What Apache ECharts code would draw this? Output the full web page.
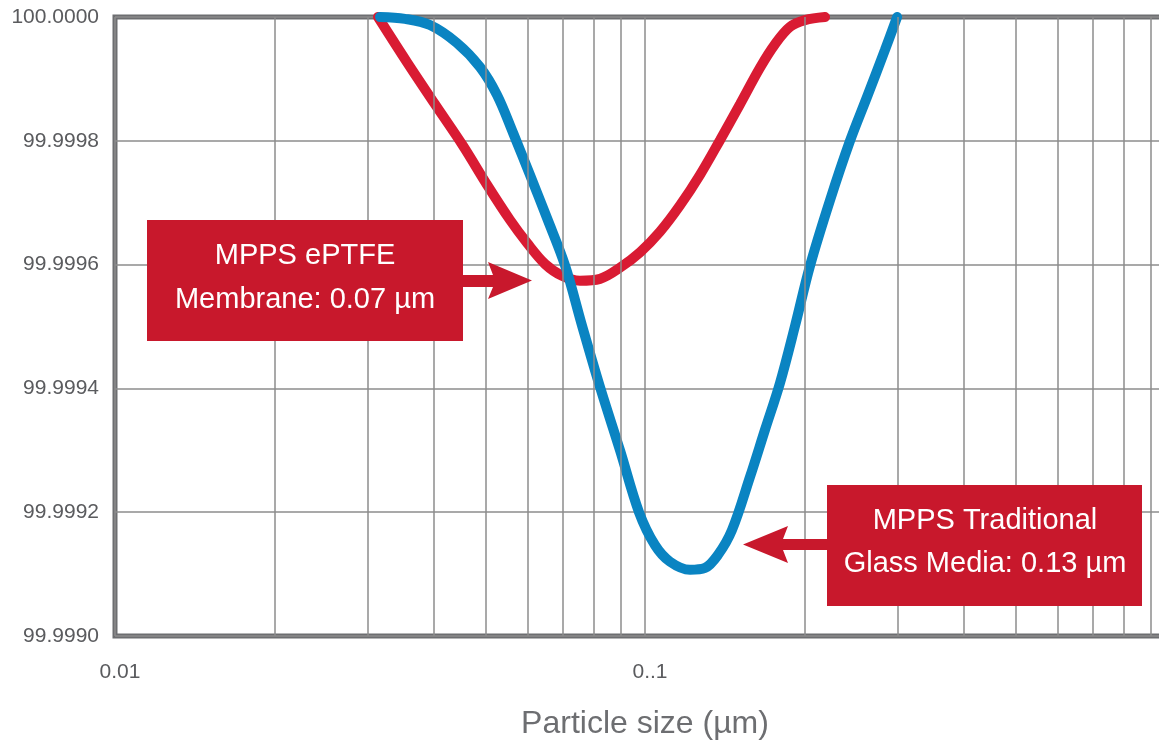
<!DOCTYPE html>
<html>
<head>
<meta charset="utf-8">
<script src="https://cdn.jsdelivr.net/npm/echarts@6/dist/echarts.min.js"></script>
<style>
html,body{margin:0;padding:0;background:#fff;}
#chart{width:1159px;height:747px;}
</style>
</head>
<body>
<div id="chart"></div>
<script>
// ---- Data ----
// Particle size (µm), log scale
const xMajorTicks = [0.01, 0.1, 1];
const xTickLabels = ['0.01', '0..1', ''];
const xMinorTicks = [0.02, 0.03, 0.04, 0.05, 0.06, 0.07, 0.08, 0.09,
                     0.2, 0.3, 0.4, 0.5, 0.6, 0.7, 0.8, 0.9];
const yTicks = [99.9990, 99.9992, 99.9994, 99.9996, 99.9998, 100.0000];

// ePTFE membrane efficiency curve (red)
const membraneX = [0.03135, 0.03556, 0.04016, 0.04535, 0.05034, 0.05564, 0.05990, 0.06476,
                   0.06972, 0.07539, 0.08226, 0.08971, 0.0979, 0.1067, 0.1165, 0.1270,
                   0.1385, 0.1511, 0.1648, 0.1759, 0.1877, 0.2004, 0.2186];
const membraneY = [100.000000, 99.999927, 99.999859, 99.999792, 99.999729, 99.999672,
                   99.999635, 99.999601, 99.999582, 99.999574, 99.999577, 99.999595,
                   99.999620, 99.999653, 99.999696, 99.999745, 99.999801, 99.999859,
                   99.999918, 99.999956, 99.999984, 99.999995, 100.000000];

// Traditional glass media efficiency curve (blue)
const glassX = [0.03162, 0.03525, 0.03929, 0.04417, 0.04884, 0.05258, 0.05636, 0.06067,
                0.06534, 0.07064, 0.07604, 0.08226, 0.08971, 0.09743, 0.1044, 0.1115,
                0.1216, 0.1298, 0.1373, 0.1459, 0.1578, 0.1684, 0.1798, 0.1919,
                0.2048, 0.2234, 0.2437, 0.2624, 0.2837, 0.2990];
const glassY = [100.000000, 99.999997, 99.999987, 99.999958, 99.999919, 99.999874,
                99.999813, 99.999745, 99.999675, 99.999599, 99.999502, 99.999402,
                99.999300, 99.999200, 99.999147, 99.999120, 99.999107, 99.999110,
                99.999131, 99.999171, 99.999257, 99.999333, 99.999409, 99.999501,
                99.999598, 99.999704, 99.999800, 99.999871, 99.999947, 100.000000];

const annotationLines = {
  membrane: ['MPPS ePTFE', 'Membrane: 0.07 µm'],
  glass: ['MPPS Traditional', 'Glass Media: 0.13 µm']
};

// ---- Styles ----
const SANS = "'Liberation Sans', Arial, Helvetica, sans-serif";
const GRID_COLOR = '#8c8c8c';
const FRAME_COLOR = '#6d6e71';
const RED_LINE = '#d91b33';
const RED_BOX = '#c8182c';
const BLUE_LINE = '#0a84c2';

const zip = (xs, ys) => xs.map((x, i) => [x, ys[i]]);

const chart = echarts.init(document.getElementById('chart'), null, {renderer: 'canvas'});

function textEl(x, y, str) {
  return {
    type: 'text', x: x, y: y, z: 20, silent: true,
    style: {text: str, fill: '#ffffff', font: '29px ' + SANS, align: 'center', verticalAlign: 'middle'}
  };
}

const option = {
  animation: false,
  backgroundColor: '#ffffff',
  grid: {
    left: 115, top: 17, right: -16, bottom: 111,
    containLabel: false, outerBoundsMode: 'none',
    show: true, borderColor: FRAME_COLOR, borderWidth: 5, backgroundColor: 'transparent'
  },
  xAxis: {
    type: 'log', logBase: 10, min: 0.01, max: 1,
    name: 'Particle size (µm)', nameLocation: 'middle', nameGap: 72,
    nameTextStyle: {color: '#6d6e71', fontSize: 32, fontFamily: SANS},
    axisLine: {show: false},
    axisTick: {show: false},
    axisLabel: {
      color: '#5a5b5e', fontSize: 21, fontFamily: SANS, margin: 26,
      padding: [0, 0, 0, 10],
      formatter: function (v) {
        for (let i = 0; i < xMajorTicks.length; i++) {
          if (Math.abs(v - xMajorTicks[i]) < 1e-9) return xTickLabels[i];
        }
        return '';
      }
    },
    splitLine: {show: true, lineStyle: {color: GRID_COLOR, width: 1.5}}
  },
  yAxis: {
    type: 'value', min: 99.999, max: 100, interval: 0.0002,
    axisLine: {show: false},
    axisTick: {show: false},
    axisLabel: {
      color: '#5a5b5e', fontSize: 21, fontFamily: SANS, margin: 16,
      padding: [4, 0, 0, 0],
      formatter: function (v) {
        let best = yTicks[0];
        yTicks.forEach(t => { if (Math.abs(t - v) < Math.abs(best - v)) best = t; });
        return best.toFixed(4);
      }
    },
    splitLine: {show: true, lineStyle: {color: GRID_COLOR, width: 1.5}}
  },
  series: [
    {
      name: 'minor grid', type: 'line', data: [], z: 1, silent: true,
      markLine: {
        silent: true, symbol: ['none', 'none'], animation: false,
        label: {show: false},
        lineStyle: {color: GRID_COLOR, width: 1.5, type: 'solid'},
        emphasis: {disabled: true},
        data: xMinorTicks.map(v => ({xAxis: v}))
      }
    },
    {
      name: 'ePTFE Membrane', type: 'line', z: 3, smooth: 0.35, showSymbol: false,
      data: zip(membraneX, membraneY),
      lineStyle: {color: RED_LINE, width: 10, cap: 'round'}
    },
    {
      name: 'Traditional Glass Media', type: 'line', z: 4, smooth: 0.35, showSymbol: false,
      data: zip(glassX, glassY),
      lineStyle: {color: BLUE_LINE, width: 10, cap: 'round'}
    }
  ],
  graphic: [
    {type: 'rect', z: 15, silent: true, shape: {x: 147, y: 220, width: 316, height: 121}, style: {fill: RED_BOX}},
    {type: 'polygon', z: 15, silent: true,
     shape: {points: [[462, 275], [493, 275], [488, 262], [532, 280.5], [488, 299], [493, 287], [462, 287]]},
     style: {fill: RED_BOX}},
    textEl(305, 256, annotationLines.membrane[0]),
    textEl(305, 300, annotationLines.membrane[1]),
    {type: 'rect', z: 15, silent: true, shape: {x: 827, y: 485, width: 315, height: 121}, style: {fill: RED_BOX}},
    {type: 'polygon', z: 15, silent: true,
     shape: {points: [[828, 539], [783, 539], [788, 526], [743, 544.5], [788, 563], [783, 550], [828, 550]]},
     style: {fill: RED_BOX}},
    textEl(985, 521, annotationLines.glass[0]),
    textEl(985, 564, annotationLines.glass[1])
  ]
};

chart.setOption(option);
</script>
</body>
</html>
